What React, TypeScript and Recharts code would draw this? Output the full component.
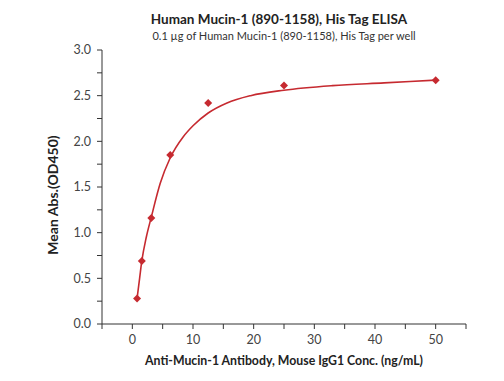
import React from "react";
import { ComposedChart, Line, Scatter, XAxis, YAxis } from "recharts";

const concentrations = [0.78, 1.5625, 3.125, 6.25, 12.5, 25, 50];
const absorbance = [0.28, 0.69, 1.16, 1.85, 2.42, 2.61, 2.67];

const curveX = [0.78, 1.2, 1.5625, 2.3, 3.125, 4.6, 6.25, 8.4, 10, 12.5, 15.6, 19.5, 25, 33, 41.5, 50];
const curveY = [0.28, 0.5, 0.69, 0.95, 1.17, 1.54, 1.82, 2.05, 2.17, 2.31, 2.42, 2.5, 2.56, 2.61, 2.64, 2.67];

const xTicks = [-5, 0, 5, 10, 15, 20, 25, 30, 35, 40, 45, 50, 55];
const yTicks = [0, 0.25, 0.5, 0.75, 1, 1.25, 1.5, 1.75, 2, 2.25, 2.5, 2.75, 3];

const title = "Human Mucin-1 (890-1158), His Tag ELISA";
const subtitle = "0.1 \u00b5g of Human Mucin-1 (890-1158), His Tag per well";
const xLabel = "Anti-Mucin-1 Antibody, Mouse IgG1 Conc. (ng/mL)";
const yLabel = "Mean Abs.(OD450)";

const points = concentrations.map((x, i) => ({ x, y: absorbance[i] }));
const curve = curveX.map((x, i) => ({ x, y: curveY[i] }));

const FONT = "Lato, 'Open Sans', sans-serif";
const RED = "#c62a30";

const Diamond = (props: any) => {
  const { cx, cy } = props;
  if (cx == null || cy == null) return null;
  const r = 4;
  return <path d={`M${cx},${cy - r}L${cx + r},${cy}L${cx},${cy + r}L${cx - r},${cy}Z`} fill={RED} />;
};

export default function App() {
  return (
    <div style={{ position: "absolute", left: 0, top: 0, width: 504, height: 381, background: "#fff" }}>
      <ComposedChart
        width={504}
        height={381}
        margin={{ top: 50, right: 38, bottom: 27, left: 42 }}
        style={{ fontFamily: FONT }}
      >
        <XAxis
          type="number"
          dataKey="x"
          domain={[-5, 55]}
          ticks={xTicks}
          allowDataOverflow
          height={30}
          tickFormatter={(v: number) => (v >= 0 && v % 10 === 0 ? String(v) : "")}
          tick={{ fill: "#444", fontSize: 12.5, dy: 4 }}
          tickSize={5}
          axisLine={{ stroke: "#333" }}
          tickLine={{ stroke: "#333" }}
        />
        <YAxis
          type="number"
          dataKey="y"
          domain={[0, 3]}
          ticks={yTicks}
          width={60}
          tickFormatter={(v: number) => (Math.abs((v * 2) % 1) < 1e-9 ? v.toFixed(1) : "")}
          tick={{ fill: "#444", fontSize: 12.5, dx: -4 }}
          tickSize={5}
          axisLine={{ stroke: "#333" }}
          tickLine={{ stroke: "#333" }}
        />
        <Line
          data={curve}
          dataKey="y"
          type="monotone"
          stroke={RED}
          strokeWidth={1.6}
          dot={false}
          activeDot={false}
          isAnimationActive={false}
        />
        <Scatter
          data={points}
          dataKey="y"
          fill={RED}
          shape={Diamond}
          legendType="none"
          isAnimationActive={false}
        />
      </ComposedChart>
      <svg
        width={504}
        height={381}
        style={{ position: "absolute", left: 0, top: 0, pointerEvents: "none", fontFamily: FONT }}
      >
        <text x={279} y={24} textAnchor="middle" fontSize={13.5} fontWeight="bold" fill="#222">
          {title}
        </text>
        <text x={284} y={40} textAnchor="middle" fontSize={11} fill="#333">
          {subtitle}
        </text>
        <text x={284} y={365} textAnchor="middle" fontSize={12.3} fontWeight="bold" fill="#222">
          {xLabel}
        </text>
        <text
          x={58}
          y={195}
          textAnchor="middle"
          fontSize={14}
          fontWeight="bold"
          fill="#222"
          transform="rotate(-90 58 195)"
        >
          {yLabel}
        </text>
      </svg>
    </div>
  );
}
